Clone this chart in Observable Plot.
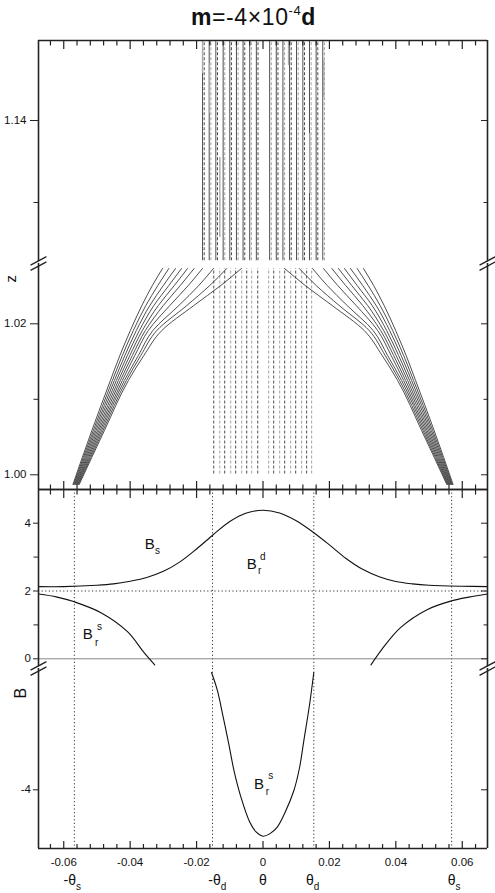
<!DOCTYPE html>
<html>
<head>
<meta charset="utf-8">
<script src="https://cdn.jsdelivr.net/npm/d3@7"></script>
<script src="https://cdn.jsdelivr.net/npm/@observablehq/plot@0.6"></script>
<style>
  html, body { margin: 0; padding: 0; background: #fff; }
  #wrap { position: relative; width: 495px; height: 893px; overflow: hidden; font-family: "Liberation Sans", Arial, Helvetica, sans-serif; color: #111; }
  #title { position: absolute; left: 0; top: 6px; width: 495px; padding-left: 12px; box-sizing: border-box; text-align: center; font-size: 23px; line-height: 22px; letter-spacing: 0.6px; white-space: nowrap; }
  #title sup { font-size: 13px; line-height: 0; vertical-align: baseline; position: relative; top: -10px; }
  svg { position: absolute; left: 0; }
</style>
</head>
<body>
<div id="wrap">
  <div id="title"><b>m</b>=-4×10<sup>-4</sup><b>d</b></div>
</div>
<script>
// ---------- tick values ----------
const xMajor = [-0.06, -0.04, -0.02, 0, 0.02, 0.04, 0.06];
const xMinor = [-0.064, -0.056, -0.052, -0.048, -0.044, -0.036, -0.032, -0.028, -0.024, -0.016, -0.012, -0.008, -0.004,
                0.004, 0.008, 0.012, 0.016, 0.024, 0.028, 0.032, 0.036, 0.044, 0.048, 0.052, 0.056, 0.064];
const zUpperMajor = [1.14];
const zUpperMinor = [1.13];
const zLowerMajor = [1.00, 1.02];
const zLowerMinor = [1.01];
const bUpperMajor = [0, 2, 4];
const bUpperMinor = [1, 3];
const bLowerMajor = [-4];

// ---------- top panel: field lines (solid curves), lower z segment ----------
const fieldZ = [0.99872, 1.00588, 1.01249, 1.01580, 1.01911, 1.02242, 1.02507, 1.02732];
const leftFieldTheta = [
  [-0.05723, -0.05152, -0.04595, -0.04310, -0.03994, -0.03648, -0.03332, -0.03026],
  [-0.05702, -0.05110, -0.04535, -0.04235, -0.03904, -0.03528, -0.03167, -0.02836],
  [-0.05681, -0.05068, -0.04475, -0.04159, -0.03814, -0.03408, -0.03002, -0.02635],
  [-0.05660, -0.05026, -0.04415, -0.04084, -0.03723, -0.03287, -0.02836, -0.02454],
  [-0.05639, -0.04983, -0.04355, -0.04009, -0.03633, -0.03152, -0.02671, -0.02274],
  [-0.05618, -0.04941, -0.04295, -0.03934, -0.03543, -0.03002, -0.02490, -0.02075],
  [-0.05597, -0.04899, -0.04235, -0.03859, -0.03453, -0.02806, -0.02250, -0.01823],
  [-0.05576, -0.04857, -0.04174, -0.03753, -0.03317, -0.02535, -0.01934, -0.01492],
  [-0.05555, -0.04815, -0.04114, -0.03679, -0.03197, -0.02295, -0.01603, -0.01092],
  [-0.05534, -0.04774, -0.04054, -0.03588, -0.03047, -0.02084, -0.01272, -0.00650]
];
const rightFieldTheta = [
  [0.05723, 0.05152, 0.04595, 0.04310, 0.03994, 0.03648, 0.03332, 0.03026],
  [0.05702, 0.05110, 0.04535, 0.04235, 0.03904, 0.03528, 0.03167, 0.02836],
  [0.05681, 0.05068, 0.04475, 0.04159, 0.03814, 0.03408, 0.03002, 0.02635],
  [0.05660, 0.05026, 0.04415, 0.04084, 0.03723, 0.03287, 0.02836, 0.02454],
  [0.05639, 0.04983, 0.04355, 0.04009, 0.03633, 0.03152, 0.02671, 0.02274],
  [0.05618, 0.04941, 0.04295, 0.03934, 0.03543, 0.03002, 0.02490, 0.02075],
  [0.05597, 0.04899, 0.04235, 0.03859, 0.03453, 0.02806, 0.02250, 0.01823],
  [0.05576, 0.04857, 0.04174, 0.03753, 0.03317, 0.02535, 0.01934, 0.01492],
  [0.05555, 0.04815, 0.04114, 0.03679, 0.03197, 0.02295, 0.01603, 0.01092],
  [0.05534, 0.04774, 0.04054, 0.03588, 0.03047, 0.02084, 0.01272, 0.00650]
];
// dashed vertical lines in the lower z segment
const lowerDashTheta = [-0.01483, -0.01302, -0.01153, -0.00972, -0.00823, -0.00641, -0.00490, -0.00340, -0.00159,
                        0.00171, 0.00322, 0.00502, 0.00653, 0.00833, 0.00984, 0.01164, 0.01314, 0.01465];
const lowerDashZ = [1.0001, 1.02732];

// ---------- top panel: upper z segment ----------
const upperSolidTheta = [-0.0182, -0.0162, -0.0142, -0.0120, -0.0100, -0.0080, -0.0060, -0.0040, -0.0020,
                         0.0020, 0.0040, 0.0060, 0.0080, 0.0101, 0.0120, 0.0140, 0.0160, 0.0180];
const upperDashTheta = [-0.0177, -0.0157, -0.0137, -0.0115, -0.0095, -0.0075, -0.0055, -0.0035, -0.0015,
                        0.0025, 0.0045, 0.0065, 0.0085, 0.0106, 0.0125, 0.0145, 0.0165, 0.0185];
const upperLineZ = [1.1229, 1.14976];
const greySegTheta  = [-0.0182, -0.0161, -0.0130, -0.0061, 0.0077, 0.0141, 0.0183, 0.0161];
const greySegTop    = [1.14976, 1.14695, 1.13549, 1.14732, 1.14976, 1.13841, 1.14732, 1.14427];
const greySegBottom = [1.14573, 1.14085, 1.12573, 1.14366, 1.14671, 1.13110, 1.14280, 1.14268];

// ---------- bottom panel ----------
const bsTheta = [-0.0676, -0.06, -0.05, -0.045, -0.04, -0.035, -0.03, -0.025, -0.02, -0.015, -0.01, -0.005, 0,
                 0.005, 0.01, 0.015, 0.02, 0.025, 0.03, 0.035, 0.04, 0.045, 0.05, 0.06, 0.0676];
const bsValue = [2.13, 2.13, 2.17, 2.21, 2.29, 2.40, 2.58, 2.86, 3.24, 3.66, 4.05, 4.30, 4.38,
                 4.30, 4.07, 3.74, 3.36, 2.96, 2.64, 2.42, 2.28, 2.21, 2.17, 2.14, 2.13];
const brsLeftTheta = [-0.0676, -0.062, -0.0568, -0.0488, -0.0408, -0.0358, -0.0326];
const brsLeftValue = [1.91, 1.82, 1.68, 1.36, 0.80, 0.18, -0.18];
const brsRightTheta = [0.0325, 0.0358, 0.0414, 0.0494, 0.0568, 0.062, 0.0676];
const brsRightValue = [-0.18, 0.28, 0.92, 1.45, 1.71, 1.82, 1.91];
const brsLowTheta = [-0.0155, -0.0137, -0.0120, -0.0104, -0.0087, -0.0067, -0.0040, -0.0020, 0,
                     0.0020, 0.0043, 0.0065, 0.0093, 0.0110, 0.0123, 0.0140, 0.0153];
const brsLowValue = [-0.54, -1.08, -1.85, -2.60, -3.45, -4.20, -4.95, -5.25, -5.37,
                     -5.30, -5.10, -4.70, -4.02, -3.35, -2.55, -1.50, -0.54];
const dottedTheta = [-0.0568, -0.0152, 0.0153, 0.0568];

// annotations in the bottom panel
const annCBigText = ["B", "B", "B"];
const annCBigTheta = [-0.0356, -0.0049, -0.0543];
const annCBigValue = [3.25, 2.65, 0.59];
const annCSmallText = ["s", "d", "r", "s", "r"];
const annCSmallTheta = [-0.0325, -0.0009, -0.0015, -0.0500, -0.0506];
const annCSmallValue = [3.08, 2.92, 2.49, 0.855, 0.39];
const annDSmallText = ["s", "r"];
const annDSmallTheta = [0.0016, 0.0008];
const annDSmallValue = [-3.676, -4.168];
const annDBigTheta = [-0.0027];
const annDBigValue = [-3.97];

// symbols under the θ axis
const symTheta = [-0.0563, -0.0127, 0.0153, 0.0580];
const symMain = ["-θ", "-θ", "θ", "θ"];
const symSub = ["s", "d", "d", "s"];

// ---------- build tables ----------
const fieldRows = [];
[leftFieldTheta, rightFieldTheta].forEach((set, s) =>
  set.forEach((curve, i) => curve.forEach((t, j) => fieldRows.push({id: s * 100 + i, theta: t, z: fieldZ[j]}))));
const greySegs = greySegTheta.map((t, i) => ({theta: t, top: greySegTop[i], bottom: greySegBottom[i]}));
const bsRows = bsTheta.map((t, i) => ({theta: t, b: bsValue[i]}));
const brsLeftRows = brsLeftTheta.map((t, i) => ({theta: t, b: brsLeftValue[i]}));
const brsRightRows = brsRightTheta.map((t, i) => ({theta: t, b: brsRightValue[i]}));
const brsLowRows = brsLowTheta.map((t, i) => ({theta: t, b: brsLowValue[i]}));
const annCBig = annCBigText.map((s, i) => ({s, theta: annCBigTheta[i], b: annCBigValue[i]}));
const annCSmall = annCSmallText.map((s, i) => ({s, theta: annCSmallTheta[i], b: annCSmallValue[i]}));
const annDSmall = annDSmallText.map((s, i) => ({s, theta: annDSmallTheta[i], b: annDSmallValue[i]}));
const annDBig = annDBigTheta.map((t, i) => ({s: "B", theta: t, b: annDBigValue[i]}));
const symRows = symTheta.map((t, i) => ({theta: t, main: symMain[i], sub: symSub[i]}));

// ---------- drawing ----------
const wrap = document.getElementById("wrap");
const FONT = "'Liberation Sans', Arial, Helvetica, sans-serif";
const PAD = 45;
const XDOM = [-0.0676, 0.0676];
const AX = "#222";
const LINE = "#3a3a3a";
const slash = {draw(ctx, l) { ctx.moveTo(0, 0); ctx.lineTo(0, -l); }};

function breakMarks() {
  const out = [];
  for (const fa of ["bottom-left", "bottom-right"]) {
    out.push(Plot.vector([0], {frameAnchor: fa, length: 19, rotate: 62, anchor: "middle", shape: slash, stroke: "white", strokeWidth: 3.4}));
    out.push(Plot.vector([0], {frameAnchor: fa, length: 17, rotate: 62, anchor: "middle", shape: slash, stroke: AX, strokeWidth: 1.3, dy: -2.6}));
    out.push(Plot.vector([0], {frameAnchor: fa, length: 17, rotate: 62, anchor: "middle", shape: slash, stroke: AX, strokeWidth: 1.3, dy: 2.6}));
  }
  return out;
}
function sideRules() {
  return Plot.ruleX(XDOM, {stroke: AX, strokeWidth: 1.6});
}
function yAxes(major, minor, fmt, size, pad) {
  const m = [
    Plot.axisY(major, {anchor: "left", tickSize: size, tickPadding: pad, tickFormat: fmt, label: null, stroke: AX, fill: "#111", fontSize: 11.5}),
    Plot.axisY(major, {anchor: "right", tickSize: -7, label: null, stroke: AX, fill: "none"})
  ];
  if (minor.length) {
    m.push(Plot.axisY(minor, {anchor: "left", tickSize: 4.5, label: null, stroke: AX, fill: "none"}));
    m.push(Plot.axisY(minor, {anchor: "right", tickSize: -4.5, label: null, stroke: AX, fill: "none"}));
  }
  return m;
}
function xTicks(anchor, major, minor) {
  return [
    Plot.axisX(xMajor, {anchor, tickSize: -major, label: null, stroke: AX, strokeWidth: 1.2, fill: "none"}),
    Plot.axisX(xMinor, {anchor, tickSize: -minor, label: null, stroke: AX, strokeWidth: 1.2, fill: "none"})
  ];
}
function panel(frameTop, frameBottom, yDomain, marks) {
  const svg = Plot.plot({
    width: 495,
    height: frameBottom - frameTop + 2 * PAD,
    marginLeft: 38, marginRight: 8, marginTop: PAD, marginBottom: PAD,
    x: {domain: XDOM},
    y: {domain: yDomain},
    style: {background: "transparent", overflow: "visible", fontFamily: FONT, fontSize: "11.5px", color: "#111"},
    marks
  });
  svg.style.position = "absolute";
  svg.style.left = "0px";
  svg.style.top = (frameTop - PAD) + "px";
  wrap.appendChild(svg);
}

// Panel A: upper z segment
panel(40, 263, [1.122561, 1.149756], [
  Plot.ruleX(upperSolidTheta, {y1: upperLineZ[0], y2: upperLineZ[1], stroke: LINE, strokeWidth: 0.9}),
  Plot.ruleX(upperDashTheta, {filter: (d, i) => i % 2 === 0, y1: upperLineZ[0], y2: upperLineZ[1], stroke: "#222", strokeWidth: 0.8, strokeDasharray: "3,2"}),
  Plot.ruleX(upperDashTheta, {filter: (d, i) => i % 2 === 1, y1: upperLineZ[0], y2: upperLineZ[1], stroke: "#999", strokeWidth: 0.9, strokeDasharray: "3,2"}),
  Plot.ruleX(greySegs, {x: "theta", y1: "top", y2: "bottom", stroke: "#aaa", strokeWidth: 1.4}),
  sideRules(),
  Plot.ruleY([1.149756], {stroke: AX, strokeWidth: 1.6}),
  ...xTicks("top", 8, 4.5),
  ...yAxes(zUpperMajor, zUpperMinor, d => d.toFixed(2), 8, 4),
  ...breakMarks()
]);

// Panel B: lower z segment
panel(263, 489, [0.998053, 1.027987], [
  Plot.ruleX(lowerDashTheta, {filter: (d, i) => i % 2 === 0, y1: lowerDashZ[0], y2: lowerDashZ[1], stroke: "#222", strokeWidth: 0.8, strokeDasharray: "3,2"}),
  Plot.ruleX(lowerDashTheta, {filter: (d, i) => i % 2 === 1, y1: lowerDashZ[0], y2: lowerDashZ[1], stroke: "#999", strokeWidth: 0.9, strokeDasharray: "3,2"}),
  Plot.line(fieldRows, {x: "theta", y: "z", z: "id", curve: "monotone-y", stroke: LINE, strokeWidth: 0.9}),
  sideRules(),
  Plot.ruleY([0.998053], {stroke: AX, strokeWidth: 1.6}),
  ...xTicks("bottom", 8, 4.5),
  ...yAxes(zLowerMajor, zLowerMinor, d => d.toFixed(2), 8, 4),
  Plot.text(["z"], {frameAnchor: "top-left", dx: -33.5, dy: 19, rotate: -90, fontSize: 15, fill: "#111"})
]);

// Panel C: upper B segment
panel(489, 668, [-0.286, 4.994], [
  Plot.ruleX(dottedTheta, {stroke: "#333", strokeWidth: 1, strokeDasharray: "1.2,2.4"}),
  Plot.ruleY([2], {stroke: "#333", strokeWidth: 1, strokeDasharray: "1.2,2.4"}),
  Plot.ruleY([0], {stroke: "#888", strokeWidth: 1}),
  Plot.line(bsRows, {x: "theta", y: "b", curve: "catmull-rom", stroke: "#111", strokeWidth: 1.1}),
  Plot.line(brsLeftRows, {x: "theta", y: "b", curve: "catmull-rom", stroke: "#111", strokeWidth: 1.1}),
  Plot.line(brsRightRows, {x: "theta", y: "b", curve: "catmull-rom", stroke: "#111", strokeWidth: 1.1}),
  Plot.text(annCBig, {x: "theta", y: "b", text: "s", textAnchor: "start", lineAnchor: "bottom", fontSize: 15, fill: "#111"}),
  Plot.text(annCSmall, {x: "theta", y: "b", text: "s", textAnchor: "start", lineAnchor: "bottom", fontSize: 10, fill: "#111"}),
  sideRules(),
  Plot.ruleY([4.994], {stroke: AX, strokeWidth: 1.6}),
  ...xTicks("top", 8, 4.5),
  ...yAxes(bUpperMajor, bUpperMinor, d => String(d), 5, 2.5),
  ...breakMarks()
]);

// Panel D: lower B segment
panel(668, 848, [-5.732, -0.422], [
  Plot.ruleX(dottedTheta, {stroke: "#333", strokeWidth: 1, strokeDasharray: "1.2,2.4"}),
  Plot.line(brsLowRows, {x: "theta", y: "b", curve: "catmull-rom", stroke: "#111", strokeWidth: 1.1}),
  Plot.text(annDBig, {x: "theta", y: "b", text: "s", textAnchor: "start", lineAnchor: "bottom", fontSize: 15, fill: "#111"}),
  Plot.text(annDSmall, {x: "theta", y: "b", text: "s", textAnchor: "start", lineAnchor: "bottom", fontSize: 10, fill: "#111"}),
  sideRules(),
  Plot.ruleY([-5.732], {stroke: AX, strokeWidth: 1.6}),
  ...xTicks("bottom", 7, 4),
  Plot.axisX(xMajor, {anchor: "bottom", tickSize: 0, tickPadding: 9, tickFormat: d => d === 0 ? "0" : d.toFixed(2), label: null, fill: "#111", fontSize: 11.5}),
  ...yAxes(bLowerMajor, [], d => String(d), 5, 2.5),
  Plot.text(["B"], {frameAnchor: "top-left", dx: -24, dy: 30, rotate: -90, fontSize: 16, fill: "#111"}),
  Plot.text(symRows, {x: "theta", frameAnchor: "bottom", text: "main", textAnchor: "end", lineAnchor: "bottom", dy: 36.7, fontSize: 14, fill: "#111"}),
  Plot.text(symRows, {x: "theta", frameAnchor: "bottom", text: "sub", textAnchor: "start", lineAnchor: "bottom", dy: 41, fontSize: 10, fill: "#111"}),
  Plot.text([0], {x: d => d, frameAnchor: "bottom", text: () => "θ", textAnchor: "middle", lineAnchor: "bottom", dy: 36.7, fontSize: 14, fill: "#111"})
]);
</script>
</body>
</html>
